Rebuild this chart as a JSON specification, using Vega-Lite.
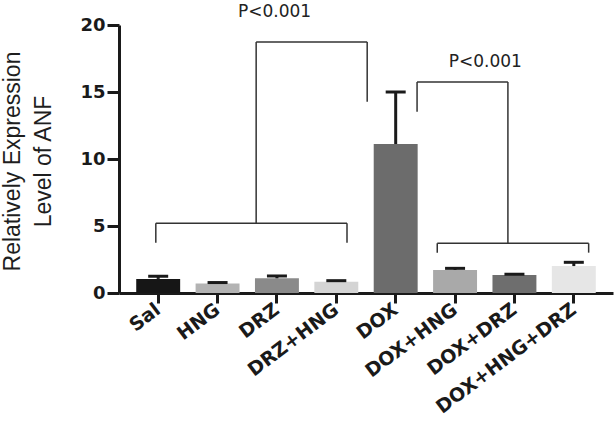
{
  "$schema": "https://vega.github.io/schema/vega-lite/v6.json",
  "width": 494,
  "height": 268,
  "autosize": "none",
  "padding": {"left": 119, "top": 25, "right": 1, "bottom": 134},
  "background": "white",
  "config": {"view": {"stroke": null}},
  "datasets": {
    "bars": [
      {"group": "Sal", "value": 1.05, "err": 1.25},
      {"group": "HNG", "value": 0.7, "err": 0.78},
      {"group": "DRZ", "value": 1.1, "err": 1.27},
      {"group": "DRZ+HNG", "value": 0.84, "err": 0.92},
      {"group": "DOX", "value": 11.12, "err": 15.0},
      {"group": "DOX+HNG", "value": 1.72, "err": 1.84},
      {"group": "DOX+DRZ", "value": 1.34, "err": 1.4},
      {"group": "DOX+HNG+DRZ", "value": 2.01, "err": 2.29}
    ],
    "brackets": [
      {"x1": -0.04, "x2": 3.18, "y1": 5.2, "y2": 5.2},
      {"x1": -0.04, "x2": -0.04, "y1": 3.75, "y2": 5.2},
      {"x1": 3.18, "x2": 3.18, "y1": 3.75, "y2": 5.2},
      {"x1": 1.65, "x2": 1.65, "y1": 5.2, "y2": 18.73},
      {"x1": 1.65, "x2": 3.52, "y1": 18.73, "y2": 18.73},
      {"x1": 3.52, "x2": 3.52, "y1": 14.28, "y2": 18.73},
      {"x1": 4.7, "x2": 7.25, "y1": 3.71, "y2": 3.71},
      {"x1": 4.7, "x2": 4.7, "y1": 3.01, "y2": 3.71},
      {"x1": 7.25, "x2": 7.25, "y1": 3.01, "y2": 3.71},
      {"x1": 5.89, "x2": 5.89, "y1": 3.71, "y2": 15.75},
      {"x1": 4.36, "x2": 5.89, "y1": 15.75, "y2": 15.75},
      {"x1": 4.36, "x2": 4.36, "y1": 13.53, "y2": 15.75}
    ],
    "labels": [
      {"label": "P<0.001", "x": 1.96, "y": 20.62},
      {"label": "P<0.001", "x": 5.51, "y": 16.89}
    ]
  },
  "layer": [
    {
      "data": {"name": "bars"},
      "encoding": {
        "x": {
          "field": "group", "type": "nominal", "sort": null,
          "scale": {"paddingInner": 0.26, "paddingOuter": 0.29},
          "axis": {
            "title": null, "domainWidth": 3, "domainColor": "#1a1a1a",
            "tickWidth": 3, "tickSize": 10, "tickColor": "#1a1a1a",
            "labelAngle": -37, "labelAlign": "right", "labelBaseline": "middle",
            "labelFont": "DejaVu Sans", "labelFontWeight": "bold", "labelFontSize": 19,
            "labelColor": "#1a1a1a", "labelPadding": 4, "labelOverlap": false
          }
        }
      },
      "layer": [
        {
          "mark": {"type": "bar"},
          "encoding": {
            "y": {
              "field": "value", "type": "quantitative",
              "scale": {"domain": [0, 20], "nice": false},
              "axis": {
                "title": ["Relatively Expression", "Level of ANF"],
                "titleFont": "Liberation Sans", "titleFontSize": 23, "titleFontWeight": "normal",
                "titleColor": "#1e1e1e", "titleLineHeight": 31,
                "titleX": -118, "titleY": 136, "titleAngle": -90, "titleAlign": "center", "titleBaseline": "top",
                "values": [0, 5, 10, 15, 20], "grid": false,
                "domainWidth": 3, "domainColor": "#1a1a1a",
                "tickWidth": 3, "tickSize": 12, "tickColor": "#1a1a1a",
                "labelFont": "DejaVu Sans", "labelFontWeight": "bold", "labelFontSize": 18,
                "labelColor": "#1a1a1a", "labelPadding": 2
              }
            },
            "color": {
              "field": "group", "type": "nominal", "legend": null,
              "scale": {
                "domain": ["Sal", "HNG", "DRZ", "DRZ+HNG", "DOX", "DOX+HNG", "DOX+DRZ", "DOX+HNG+DRZ"],
                "range": ["#161616", "#b3b3b3", "#8a8a8a", "#d4d4d4", "#6c6c6c", "#a9a9a9", "#6e6e6e", "#e6e6e6"]
              }
            }
          }
        },
        {
          "mark": {"type": "rule", "strokeWidth": 3, "color": "#1a1a1a"},
          "encoding": {
            "y": {"field": "value", "type": "quantitative"},
            "y2": {"field": "err"}
          }
        },
        {
          "mark": {"type": "tick", "thickness": 3, "size": 20, "color": "#1a1a1a", "opacity": 1},
          "encoding": {
            "y": {"field": "err", "type": "quantitative"}
          }
        }
      ]
    },
    {
      "encoding": {
        "x": {"field": "x", "type": "quantitative", "scale": {"domain": [-0.66, 7.66], "nice": false, "zero": false}, "axis": null}
      },
      "layer": [
        {
          "data": {"name": "brackets"},
          "mark": {"type": "rule", "strokeWidth": 1.5, "color": "#333333"},
          "encoding": {
            "x": {"field": "x1", "type": "quantitative", "scale": {"domain": [-0.66, 7.66], "nice": false, "zero": false}, "axis": null},
            "x2": {"field": "x2"},
            "y": {"field": "y1", "type": "quantitative"},
            "y2": {"field": "y2"}
          }
        },
        {
          "data": {"name": "labels"},
          "mark": {"type": "text", "font": "DejaVu Sans", "fontSize": 17, "color": "#222222", "align": "center", "baseline": "alphabetic"},
          "encoding": {
            "y": {"field": "y", "type": "quantitative"},
            "text": {"field": "label"}
          }
        }
      ]
    }
  ],
  "resolve": {"scale": {"x": "independent"}, "axis": {"x": "independent"}}
}
